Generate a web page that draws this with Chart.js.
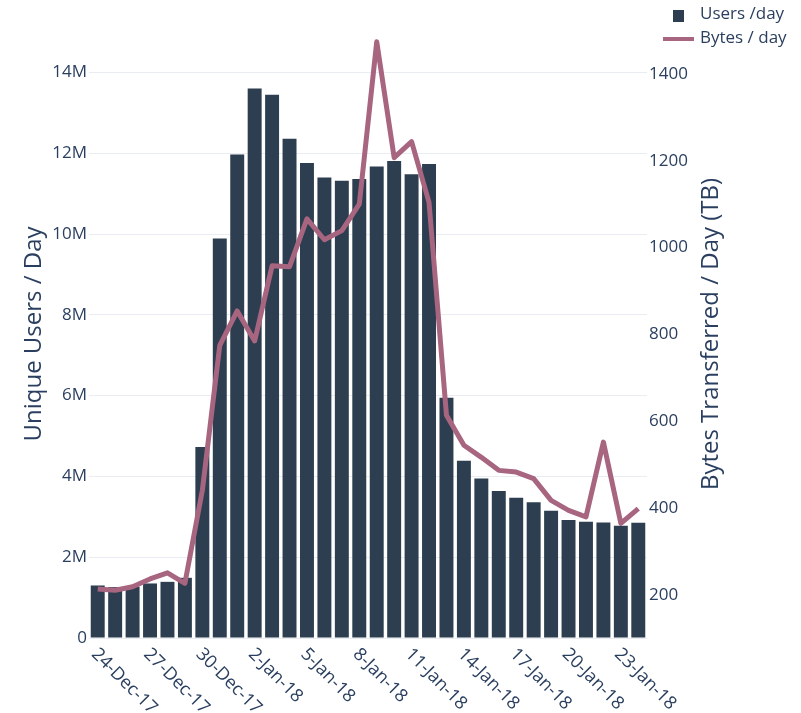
<!DOCTYPE html>
<html>
<head>
<meta charset="utf-8">
<script src="https://cdn.jsdelivr.net/npm/chart.js@4.4.1/dist/chart.umd.min.js"></script>
<style>
  html, body { margin: 0; padding: 0; background: #fff; }
  #c { display: block; }
</style>
</head>
<body>
<canvas id="c" width="801" height="713"></canvas>
<script>
// days shown on the x axis
const dates = [
  '24-Dec-17', '25-Dec-17', '26-Dec-17', '27-Dec-17', '28-Dec-17', '29-Dec-17', '30-Dec-17', '31-Dec-17',
  '1-Jan-18', '2-Jan-18', '3-Jan-18', '4-Jan-18', '5-Jan-18', '6-Jan-18', '7-Jan-18', '8-Jan-18',
  '9-Jan-18', '10-Jan-18', '11-Jan-18', '12-Jan-18', '13-Jan-18', '14-Jan-18', '15-Jan-18', '16-Jan-18',
  '17-Jan-18', '18-Jan-18', '19-Jan-18', '20-Jan-18', '21-Jan-18', '22-Jan-18', '23-Jan-18', '24-Jan-18'
];
// only every third day gets a label
const xTickLabels = [
  '24-Dec-17', '27-Dec-17', '30-Dec-17', '2-Jan-18', '5-Jan-18', '8-Jan-18',
  '11-Jan-18', '14-Jan-18', '17-Jan-18', '20-Jan-18', '23-Jan-18'
];

// unique users per day
const usersPerDay = [
  1.30e6, 1.26e6, 1.27e6, 1.35e6, 1.39e6, 1.49e6, 4.73e6, 9.89e6,
  11.97e6, 13.60e6, 13.45e6, 12.36e6, 11.76e6, 11.40e6, 11.32e6, 11.36e6,
  11.67e6, 11.81e6, 11.48e6, 11.73e6, 5.95e6, 4.39e6, 3.95e6, 3.64e6,
  3.47e6, 3.36e6, 3.15e6, 2.92e6, 2.88e6, 2.86e6, 2.78e6, 2.85e6
];
// TB transferred per day
const bytesPerDay = [
  214, 211, 219, 237, 251, 227, 441, 775,
  854, 785, 958, 956, 1066, 1018, 1039, 1100,
  1474, 1207, 1244, 1104, 614, 545, 517, 487,
  483, 468, 418, 395, 380, 552, 365, 399
];

const leftTicks = [0, 2e6, 4e6, 6e6, 8e6, 10e6, 12e6, 14e6];
const rightTicks = [200, 400, 600, 800, 1000, 1200, 1400];

const barColor = '#2c3e50';
const lineColor = '#a7657f';
const textColor = '#2a3f5f';
const fontFamily = '"Open Sans", "Noto Sans", sans-serif';

// x labels run down to the right from each tick, which Chart.js can't do itself
const slantedLabels = {
  id: 'slantedLabels',
  afterDraw(chart) {
    const ctx = chart.ctx;
    const x = chart.scales.x;
    ctx.save();
    ctx.font = '18px ' + fontFamily;
    ctx.fillStyle = textColor;
    ctx.textAlign = 'left';
    ctx.textBaseline = 'alphabetic';
    xTickLabels.forEach(lbl => {
      const i = dates.indexOf(lbl);
      const px = x.getPixelForValue(i);
      ctx.save();
      ctx.translate(px - 7, x.top + 17);
      ctx.rotate(Math.PI / 4);
      ctx.fillText(lbl, 0, 0);
      ctx.restore();
    });
    ctx.restore();
  }
};

// right axis title reads bottom to top like the left one
const rightTitle = {
  id: 'rightTitle',
  afterDraw(chart) {
    const ctx = chart.ctx;
    const a = chart.chartArea;
    ctx.save();
    ctx.font = '24px ' + fontFamily;
    ctx.fillStyle = textColor;
    ctx.textAlign = 'center';
    ctx.textBaseline = 'middle';
    ctx.translate(711, (a.top + a.bottom) / 2);
    ctx.rotate(-Math.PI / 2);
    ctx.fillText('Bytes Transferred / Day (TB)', 0, 0);
    ctx.restore();
  }
};

// small legend in the top right corner, stacked
const cornerLegend = {
  id: 'cornerLegend',
  afterDraw(chart) {
    const ctx = chart.ctx;
    const ds = chart.data.datasets;
    ctx.save();
    ctx.font = '17px ' + fontFamily;
    ctx.textAlign = 'left';
    ctx.textBaseline = 'alphabetic';
    // bars
    ctx.fillStyle = ds[1].backgroundColor;
    ctx.fillRect(673, 10, 11, 12);
    ctx.fillStyle = textColor;
    ctx.fillText(ds[1].label, 700, 19);
    // line
    ctx.strokeStyle = ds[0].borderColor;
    ctx.lineWidth = 4;
    ctx.beginPath();
    ctx.moveTo(663, 39);
    ctx.lineTo(694, 39);
    ctx.stroke();
    ctx.fillText(ds[0].label, 700, 43);
    ctx.restore();
  }
};

new Chart(document.getElementById('c'), {
  data: {
    labels: dates,
    datasets: [
      {
        type: 'line',
        label: 'Bytes / day',
        data: bytesPerDay,
        yAxisID: 'y1',
        borderColor: lineColor,
        borderWidth: 5,
        borderJoinStyle: 'round',
        pointRadius: 0,
        tension: 0,
        fill: false,
        order: 0
      },
      {
        type: 'bar',
        label: 'Users /day',
        data: usersPerDay,
        yAxisID: 'y',
        backgroundColor: barColor,
        barPercentage: 0.8,
        categoryPercentage: 1,
        order: 1
      }
    ]
  },
  options: {
    responsive: false,
    animation: false,
    layout: { padding: { top: 30, left: 0, right: 0, bottom: 0 } },
    plugins: {
      legend: { display: false },
      tooltip: { enabled: false }
    },
    scales: {
      x: {
        offset: true,
        grid: { display: false },
        border: { display: false },
        ticks: { display: false },
        afterFit: s => { s.height = 75; }
      },
      y: {
        position: 'left',
        min: 0,
        max: 15.05e6,
        grid: { color: '#e9edf3', drawTicks: false },
        border: { display: false },
        afterBuildTicks: s => { s.ticks = leftTicks.map(v => ({ value: v })); },
        ticks: {
          padding: 2,
          color: textColor,
          font: { family: fontFamily, size: 17 },
          callback: v => v === 0 ? '0' : (v / 1e6) + 'M'
        },
        title: {
          display: true,
          text: 'Unique Users / Day',
          color: textColor,
          font: { family: fontFamily, size: 24 },
          padding: { top: 20, bottom: 0 }
        },
        afterFit: s => { s.width = 89; }
      },
      y1: {
        position: 'right',
        min: 101,
        max: 1501,
        grid: { display: false, drawTicks: false },
        border: { display: false },
        afterBuildTicks: s => { s.ticks = rightTicks.map(v => ({ value: v })); },
        ticks: {
          padding: 2,
          color: textColor,
          font: { family: fontFamily, size: 17 },
          callback: v => String(v)
        },
        afterFit: s => { s.width = 154; }
      }
    }
  },
  plugins: [slantedLabels, rightTitle, cornerLegend]
});
</script>
</body>
</html>
